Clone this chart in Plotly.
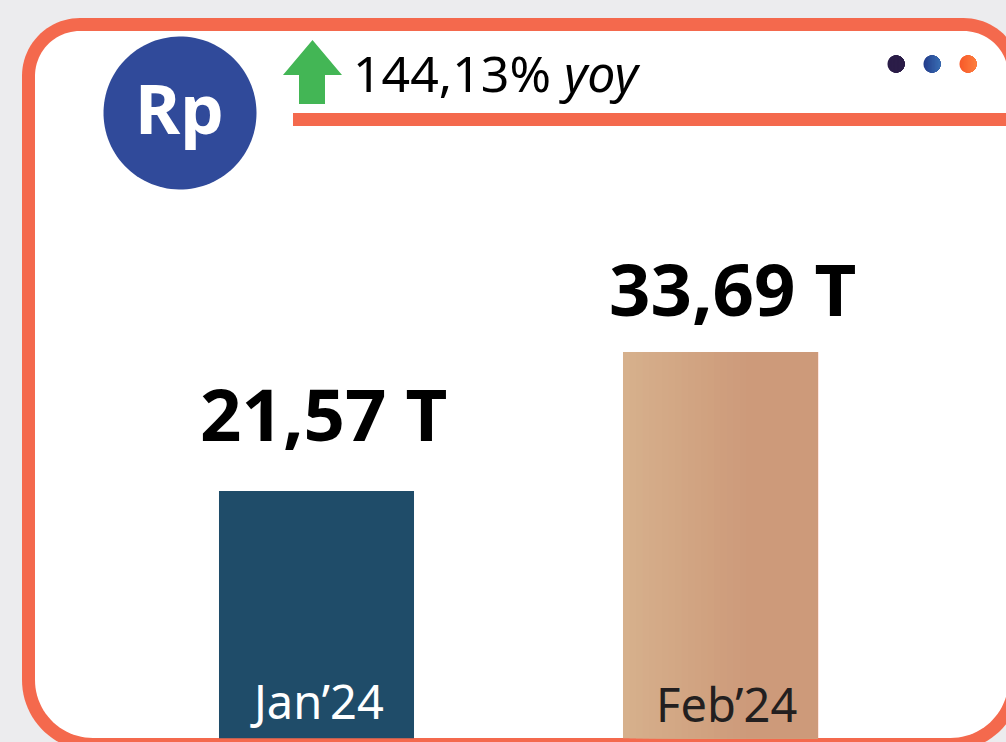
import numpy as np
import plotly.graph_objects as go

# ---- data ----
months = ["Jan’24", "Feb’24"]
values = [21.57, 33.69]
value_labels = ["21,57 T", "33,69 T"]
change_value = "144,13%"
change_unit = "yoy"
currency = "Rp"

W, H = 1006, 742
ORANGE = "#F4694D"
BAR_W = 0.4827
FONT = "Noto Sans"


def px(x):
    return x / W


def py(y):
    return 1 - y / H


def poly(points):
    return "M" + "L".join(f"{px(x):.5f},{py(y):.5f}" for x, y in points) + "Z"


def rrect_points(x0, y0, x1, y1, rt, rb, n=24):
    pts = []
    for cx, cy, r, a0 in [(x1 - rt, y0 + rt, rt, -90), (x1 - rb, y1 - rb, rb, 0),
                          (x0 + rb, y1 - rb, rb, 90), (x0 + rt, y0 + rt, rt, 180)]:
        for a in np.radians(np.linspace(a0, a0 + 90, n)):
            pts.append((cx + r * np.cos(a), cy + r * np.sin(a)))
    return pts


def lerp_color(c0, c1, t):
    return "rgb(" + ",".join(str(round(a + (b - a) * t)) for a, b in zip(c0, c1)) + ")"


def paper_shape(path, color):
    return dict(type="path", xref="paper", yref="paper", path=path, fillcolor=color,
                line=dict(width=0), layer="below")


shapes = []
# card frame
shapes.append(paper_shape(poly(rrect_points(22, 18, 1021.5, 751, 58, 71)), ORANGE))
shapes.append(paper_shape(poly(rrect_points(35, 31, 1008.5, 738, 45, 58)), "#FFFFFF"))
# header rule
shapes.append(paper_shape(poly([(293, 113), (1006, 113), (1006, 126), (293, 126)]), ORANGE))
# currency badge
a = np.radians(np.linspace(0, 360, 120))
shapes.append(paper_shape(poly(list(zip(180 + 76.5 * np.cos(a), 113 + 76.5 * np.sin(a)))), "#304A9A"))
# arrow
shapes.append(paper_shape(poly([(312.5, 40), (342, 75), (325, 75), (325, 104), (299, 104), (299, 75), (283, 75)]), "#43B655"))
# three dots with horizontal gradients
for cx, c0, c1 in [(896, (43, 29, 72), (43, 29, 72)),
                   (932, (36, 62, 140), (56, 108, 178)),
                   (968, (248, 90, 42), (252, 125, 62))]:
    r = 8.5
    for k in range(12):
        t0 = np.arccos(1 - 2 * k / 12)
        # part of the circle to the right of slice k
        ang = np.linspace(-(np.pi - t0), np.pi - t0, 50)
        pts = list(zip(cx + r * np.cos(ang), 64 + r * np.sin(ang)))
        shapes.append(paper_shape(poly(pts), lerp_color(c0, c1, k / 11)))

# ---- bars ----
fig = go.Figure()
fig.add_trace(go.Bar(x=[months[0]], y=[values[0]], width=BAR_W, marker=dict(color="#1F4C69", line=dict(width=0)),
                     hoverinfo="skip"))
N = 30
g0, g1 = (214, 176, 140), (205, 154, 122)
for k in range(N):
    off = -BAR_W / 2 + BAR_W * k / N
    fig.add_trace(go.Bar(x=[months[1]], y=[values[1]], offset=off, width=BAR_W * (1 - k / N),
                         marker=dict(color=lerp_color(g0, g1, min(1, k / (N * 0.62))), line=dict(width=0)),
                         hoverinfo="skip"))


def note(text, x, y, size, color="#000000", bold=False):
    return dict(text=f"<b>{text}</b>" if bold else text, xref="paper", yref="paper", x=px(x), y=py(y),
                xanchor="center", yanchor="middle", showarrow=False,
                font=dict(family=FONT, size=size, color=color))


annotations = [
    note(currency, 179.5, 107, 69, "#FFFFFF", True),
    note(f"{change_value} <i>{change_unit}</i>", 496.5, 73, 50),
    note(value_labels[0], 323.5, 412, 72.5, bold=True),
    note(value_labels[1], 732, 287, 72.5, bold=True),
    note(months[0], 317, 701, 47, "#FFFFFF"),
    note(months[1], 726, 704, 47, "#231F20"),
]

scale = 11.47
base = 738.3
fig.update_layout(
    width=W, height=H, autosize=False,
    margin=dict(l=0, r=0, t=0, b=0, pad=0),
    paper_bgcolor="#ECECEE", plot_bgcolor="rgba(0,0,0,0)",
    barmode="overlay", showlegend=False,
    xaxis=dict(type="category", categoryorder="array", categoryarray=months, visible=False,
               range=[-316.5 / 404, (W - 316.5) / 404]),
    yaxis=dict(visible=False, range=[-(H - base) / scale, base / scale]),
    shapes=shapes, annotations=annotations,
)
fig.write_html("out.html", config=dict(displayModeBar=False),
               post_script="document.body.style.margin='0';document.body.style.overflow='hidden';")
